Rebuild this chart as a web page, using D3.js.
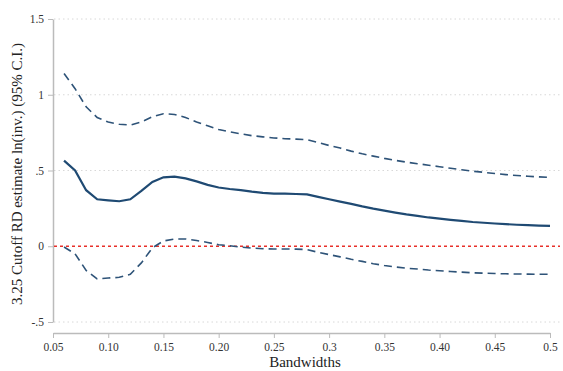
<!DOCTYPE html>
<html><head><meta charset="utf-8">
<script src="https://cdn.jsdelivr.net/npm/d3@7"></script>
<style>body{margin:0;background:#fff}svg{display:block}</style>
</head><body>
<svg id="c" width="563" height="371"></svg>
<script>
const bandwidths = [0.06,0.07,0.08,0.09,0.10,0.11,0.12,0.13,0.14,0.15,0.16,0.17,0.18,0.19,0.20,0.21,0.22,0.23,0.24,0.25,0.26,0.27,0.28,0.29,0.30,0.31,0.32,0.33,0.34,0.35,0.36,0.37,0.38,0.39,0.40,0.41,0.42,0.43,0.44,0.45,0.46,0.47,0.48,0.49,0.50];
const estimate = [0.565,0.50,0.37,0.31,0.303,0.297,0.31,0.365,0.425,0.455,0.46,0.448,0.428,0.405,0.388,0.378,0.37,0.36,0.352,0.348,0.347,0.345,0.342,0.326,0.31,0.295,0.28,0.263,0.248,0.235,0.222,0.21,0.20,0.19,0.182,0.174,0.167,0.16,0.155,0.15,0.146,0.142,0.139,0.136,0.134];
const upperCI = [1.14,1.04,0.92,0.85,0.82,0.805,0.80,0.82,0.855,0.875,0.87,0.85,0.82,0.795,0.77,0.755,0.742,0.73,0.722,0.715,0.71,0.707,0.703,0.685,0.665,0.648,0.628,0.61,0.595,0.58,0.567,0.555,0.545,0.535,0.525,0.515,0.505,0.495,0.488,0.48,0.473,0.467,0.462,0.458,0.454];
const lowerCI = [-0.005,-0.05,-0.16,-0.215,-0.21,-0.205,-0.185,-0.11,-0.01,0.035,0.048,0.048,0.038,0.025,0.01,0.003,-0.005,-0.012,-0.016,-0.018,-0.018,-0.019,-0.022,-0.04,-0.055,-0.07,-0.086,-0.10,-0.115,-0.127,-0.137,-0.145,-0.15,-0.157,-0.162,-0.167,-0.171,-0.175,-0.178,-0.18,-0.182,-0.183,-0.184,-0.185,-0.185];
const xTicks = [0.05,0.10,0.15,0.20,0.25,0.30,0.35,0.40,0.45,0.50];
const xTickLabels = ["0.05","0.10","0.15","0.20","0.25","0.3","0.35","0.40","0.45","0.5"];
const yTicks = [-0.5,0,0.5,1,1.5];
const yTickLabels = ["-.5","0",".5","1","1.5"];

const svg = d3.select("#c");
const font = "'Liberation Serif', 'Times New Roman', serif";
const x = d3.scaleLinear().domain([0.05,0.5]).range([53,550]);
const y = d3.scaleLinear().domain([-0.5,1.5]).range([322,19]);

// gridlines
svg.append("g").selectAll("line").data(yTicks.filter(d=>d!==0)).join("line")
  .attr("x1",54).attr("x2",560).attr("y1",d=>y(d)).attr("y2",d=>y(d))
  .attr("stroke","#d8d8d8").attr("stroke-width",1).attr("stroke-dasharray","1.5,3");

// y axis
const yAxis = d3.axisLeft(y).tickValues(yTicks).tickFormat(d=>yTickLabels[yTicks.indexOf(d)]).tickSize(5).tickSizeOuter(0).tickPadding(4);
const gy = svg.append("g").attr("transform","translate(53,0)").call(yAxis);
gy.select(".domain").attr("stroke","#bbb").attr("stroke-width",1.5);
gy.selectAll(".tick line").attr("stroke","#bbb");
gy.selectAll(".tick text").attr("font-family",font).attr("font-size",11.5).attr("fill","#333");

// x axis
const xAxis = d3.axisBottom(x).tickValues(xTicks).tickFormat(d=>xTickLabels[xTicks.indexOf(d)]).tickSize(5).tickSizeOuter(0).tickPadding(5);
const gx = svg.append("g").attr("transform","translate(0,333)").call(xAxis);
gx.select(".domain").attr("stroke","#bbb").attr("stroke-width",1.5);
gx.selectAll(".tick line").attr("stroke","#bbb");
gx.selectAll(".tick text").attr("font-family",font).attr("font-size",11.5).attr("fill","#333");

// zero line
svg.append("line").attr("x1",54).attr("x2",560).attr("y1",y(0)).attr("y2",y(0))
  .attr("stroke","#e8302a").attr("stroke-width",1.3).attr("stroke-dasharray","3,3");

const line = vals => d3.line().x((d,i)=>x(bandwidths[i])).y(d=>y(d)).curve(d3.curveLinear)(vals);
svg.append("path").attr("d",line(upperCI)).attr("fill","none").attr("stroke","#2e5378").attr("stroke-width",1.6).attr("stroke-dasharray","8,5");
svg.append("path").attr("d",line(lowerCI)).attr("fill","none").attr("stroke","#2e5378").attr("stroke-width",1.6).attr("stroke-dasharray","8,5");
svg.append("path").attr("d",line(estimate)).attr("fill","none").attr("stroke","#1f4a73").attr("stroke-width",2.2);

// titles
svg.append("text").attr("x",305).attr("y",367).attr("text-anchor","middle")
  .attr("font-family",font).attr("font-size",15).attr("fill","#222").text("Bandwidths");
svg.append("text").attr("transform","translate(22,174) rotate(-90)").attr("text-anchor","middle")
  .attr("font-family",font).attr("font-size",15).attr("fill","#222").text("3.25 Cutoff RD estimate ln(inv.) (95% C.I.)");
</script>
</body></html>
